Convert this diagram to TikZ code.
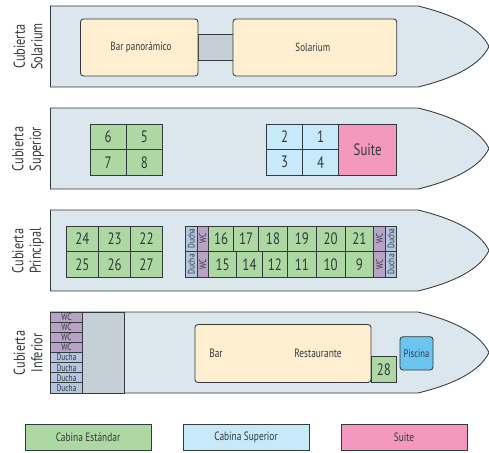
\documentclass[tikz,border=0pt]{standalone}
\usepackage{fontspec}
\usepackage{graphicx}
\setmainfont{PT Sans}[FakeStretch=0.78]
\definecolor{hull}{HTML}{DCE6ED}
\definecolor{graybox}{HTML}{C5D0D6}
\definecolor{cream}{HTML}{FFEFD0}
\definecolor{green}{HTML}{ADD7A3}
\definecolor{sup}{HTML}{C8E9FA}
\definecolor{pink}{HTML}{F598BF}
\definecolor{wc}{HTML}{B8A2C6}
\definecolor{ducha}{HTML}{B4C6DF}
\definecolor{pool}{HTML}{6CC5F0}
\definecolor{ink}{HTML}{33393C}
\tikzset{
  box/.style={draw=ink,line width=0.85pt,inner sep=0pt,outer sep=0pt,text=ink,align=center},
  hullshape/.style={draw=ink,fill=hull,line width=0.85pt},
  std/.style={box,fill=green,font=\fontsize{16.5}{17}\selectfont},
  supc/.style={box,fill=sup,font=\fontsize{16.5}{17}\selectfont},
  suitec/.style={box,fill=pink,font=\fontsize{16.5}{17}\selectfont},
  wcc/.style={box,fill=wc,font=\fontsize{9.5}{10}\selectfont},
  duc/.style={box,fill=ducha,font=\fontsize{9.5}{10}\selectfont},
  venue/.style={box,fill=cream,rounded corners=3pt,font=\fontsize{11.7}{12}\selectfont},
  grayc/.style={box,fill=graybox},
  poolc/.style={box,fill=pool,rounded corners=3pt,font=\fontsize{11}{11}\selectfont},
  legendc/.style={box,font=\fontsize{12}{12}\selectfont},
  decklabel/.style={rotate=90,align=center,text=ink,inner sep=0pt,font=\fontsize{15.75}{17.5}\selectfont},
  plain/.style={inner sep=0pt,text=ink,font=\fontsize{12}{12}\selectfont}
}
% name, x0, y0, x1, y1, style, text
\newcommand{\cellbox}[7]{%
  \pgfmathsetmacro{\cx}{(#2+#4)/2}\pgfmathsetmacro{\cy}{(#3+#5)/2}%
  \pgfmathsetmacro{\cw}{#4-#2}\pgfmathsetmacro{\ch}{#5-#3}%
  \node[#6,minimum width=\cw pt,minimum height=\ch pt] (#1) at (\cx,\cy) {#7};}
\newcommand{\hullat}[2]{%
  \draw[hullshape] (50.5,#1) -- (418,#1) .. controls (455,#1+9) and (480,#1+22) .. (489,#1+40.5)
    .. controls (480,#1+59) and (455,#1+72) .. (418,#2) -- (50.5,#2) -- cycle;}
\newcommand{\vtext}[1]{\rotatebox{90}{#1}}
\begin{document}
\begin{tikzpicture}[x=1pt,y=-1pt]
\useasboundingbox (0,0) rectangle (489,452);
% Hulls
\hullat{6}{87}
\hullat{108}{189}
\hullat{210}{291}
\hullat{312}{393}
% Deck labels
\node[decklabel] (l1) at (28,46.5) {Cubierta\\Solarium};
\node[decklabel] (l2) at (28,149) {Cubierta\\Superior};
\node[decklabel] (l3) at (28,251) {Cubierta\\Principal};
\node[decklabel] (l4) at (28,353) {Cubierta\\Inferior};
% Solarium
\cellbox{link}{198}{34.5}{233}{60}{grayc}{}
\cellbox{barp}{80.5}{19}{198}{76}{venue}{\hspace*{3.5pt}Bar panorámico}
\cellbox{sol}{233}{19}{396.7}{76}{venue}{Solarium\hspace*{4pt}}
% Superior
\cellbox{c6}{90}{124}{126.3}{149.5}{std}{6}
\cellbox{c5}{126.3}{124}{162.5}{149.5}{std}{5}
\cellbox{c7}{90}{149.5}{126.3}{175}{std}{7}
\cellbox{c8}{126.3}{149.5}{162.5}{175}{std}{8}
\cellbox{c2}{266.7}{124}{302.7}{149.5}{supc}{2}
\cellbox{c1}{302.7}{124}{338.7}{149.5}{supc}{1}
\cellbox{c3}{266.7}{149.5}{302.7}{175}{supc}{3}
\cellbox{c4}{302.7}{149.5}{338.7}{175}{supc}{4}
\cellbox{suite}{338.7}{124}{396.7}{175}{suitec}{Suite}
% Principal
\cellbox{c24}{66}{226}{98.7}{251.5}{std}{24}
\cellbox{c23}{98.7}{226}{130.5}{251.5}{std}{23}
\cellbox{c22}{130.5}{226}{162.5}{251.5}{std}{22}
\cellbox{c25}{66}{251.5}{98.7}{277}{std}{25}
\cellbox{c26}{98.7}{251.5}{130.5}{277}{std}{26}
\cellbox{c27}{130.5}{251.5}{162.5}{277}{std}{27}
\cellbox{dl1}{185.5}{226}{197}{251.5}{duc}{\vtext{Ducha}}
\cellbox{wl1}{197}{226}{208.5}{251.5}{wcc}{\vtext{WC}}
\cellbox{dl2}{185.5}{251.5}{197}{277}{duc}{\vtext{Ducha}}
\cellbox{wl2}{197}{251.5}{208.5}{277}{wcc}{\vtext{WC}}
\cellbox{c16}{208.5}{226}{233.7}{251.5}{std}{16}
\cellbox{c17}{233.7}{226}{258.7}{251.5}{std}{17}
\cellbox{c18}{258.7}{226}{287.3}{251.5}{std}{18}
\cellbox{c19}{287.3}{226}{316.3}{251.5}{std}{19}
\cellbox{c20}{316.3}{226}{345}{251.5}{std}{20}
\cellbox{c21}{345}{226}{373.7}{251.5}{std}{21}
\cellbox{c15}{208.5}{251.5}{236.7}{277}{std}{15}
\cellbox{c14}{236.7}{251.5}{262.3}{277}{std}{14}
\cellbox{c12}{262.3}{251.5}{287.3}{277}{std}{12}
\cellbox{c11}{287.3}{251.5}{316.3}{277}{std}{11}
\cellbox{c10}{316.3}{251.5}{345}{277}{std}{10}
\cellbox{c9}{345}{251.5}{373.7}{277}{std}{9}
\cellbox{wr1}{373.7}{226}{385.2}{251.5}{wcc}{\vtext{WC}}
\cellbox{dr1}{385.2}{226}{396.7}{251.5}{duc}{\vtext{Ducha}}
\cellbox{wr2}{373.7}{251.5}{385.2}{277}{wcc}{\vtext{WC}}
\cellbox{dr2}{385.2}{251.5}{396.7}{277}{duc}{\vtext{Ducha}}
% Inferior
\cellbox{store}{82.5}{312}{124.5}{393}{grayc}{}
\cellbox{w1}{50.5}{312}{82.5}{322.1}{wcc}{WC}
\cellbox{w2}{50.5}{322.1}{82.5}{332.2}{wcc}{WC}
\cellbox{w3}{50.5}{332.2}{82.5}{342.4}{wcc}{WC}
\cellbox{w4}{50.5}{342.4}{82.5}{352.5}{wcc}{WC}
\cellbox{d1}{50.5}{352.5}{82.5}{362.6}{duc}{Ducha}
\cellbox{d2}{50.5}{362.6}{82.5}{372.8}{duc}{Ducha}
\cellbox{d3}{50.5}{372.8}{82.5}{382.9}{duc}{Ducha}
\cellbox{d4}{50.5}{382.9}{82.5}{393}{duc}{Ducha}
\cellbox{rest}{195}{324.5}{371}{382.5}{venue}{}
\node[plain] (bar) at (216,353) {Bar};
\node[plain] (restl) at (318,353) {Restaurante};
\cellbox{c28}{371}{356.3}{396.7}{382.5}{std}{28}
\cellbox{pisc}{400}{336.7}{433}{370}{poolc}{Piscina}
% Legend
\cellbox{lg1}{25}{424.3}{151}{450}{legendc,fill=green}{Cabina Estándar}
\cellbox{lg2}{183}{424.3}{309}{450}{legendc,fill=sup}{Cabina Superior}
\cellbox{lg3}{341}{424.3}{467}{450}{legendc,fill=pink}{Suite}
\end{tikzpicture}
\end{document}
